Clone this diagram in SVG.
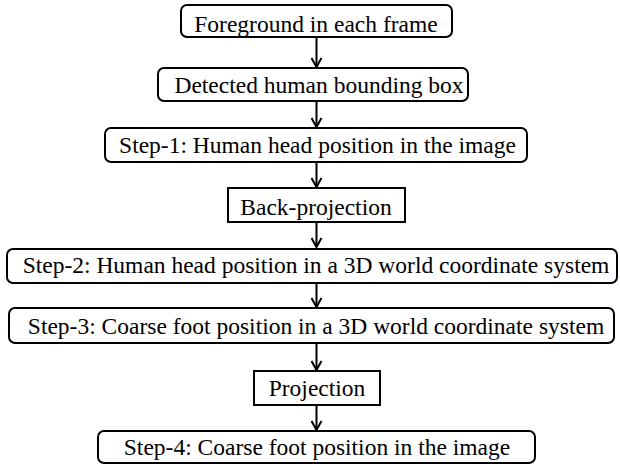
<svg xmlns="http://www.w3.org/2000/svg" width="620" height="464" viewBox="0 0 620 464">
<defs>
<style>
.box{fill:#fff;stroke:#000;stroke-width:2}
.c{stroke:#000;stroke-width:2;fill:none}
</style>
<marker id="ah" markerWidth="12" markerHeight="12" refX="10" refY="6" orient="auto" markerUnits="userSpaceOnUse">
<path d="M1,1 L10,6 L1,11" fill="none" stroke="#000" stroke-width="2"/>
</marker>
</defs>
<rect width="620" height="464" fill="#fff"/>
<g id="connectors">
<line class="c" x1="316.5" y1="38" x2="316.5" y2="67" marker-end="url(#ah)"/>
<line class="c" x1="316.5" y1="101" x2="316.5" y2="127" marker-end="url(#ah)"/>
<line class="c" x1="316.5" y1="162" x2="316.5" y2="187" marker-end="url(#ah)"/>
<line class="c" x1="316.5" y1="222" x2="316.5" y2="247" marker-end="url(#ah)"/>
<line class="c" x1="316.5" y1="283" x2="316.5" y2="307" marker-end="url(#ah)"/>
<line class="c" x1="316.5" y1="343" x2="316.5" y2="370" marker-end="url(#ah)"/>
<line class="c" x1="316.5" y1="405" x2="316.5" y2="430" marker-end="url(#ah)"/>
</g>
<g font-family="Liberation Serif" font-size="23.5" text-anchor="middle" fill="#000">
<g id="n1"><rect class="box" x="181" y="5" width="271" height="32" rx="6"/><text x="316" y="32">Foreground in each frame</text></g>
<g id="n2"><rect class="box" x="158" y="68" width="310" height="33" rx="6"/><text x="319" y="93">Detected human bounding box</text></g>
<g id="n3"><rect class="box" x="105" y="128" width="422" height="34" rx="6"/><text x="317.5" y="153">Step-1: Human head position in the image</text></g>
<g id="n4"><rect class="box" x="228" y="188" width="177" height="34"/><text x="316" y="215">Back-projection</text></g>
<g id="n5"><rect class="box" x="7" y="249" width="610" height="34" rx="6"/><text x="316" y="273">Step-2: Human head position in a 3D world coordinate system</text></g>
<g id="n6"><rect class="box" x="9" y="308" width="605" height="35" rx="6"/><text x="316" y="334">Step-3: Coarse foot position in a 3D world coordinate system</text></g>
<g id="n7"><rect class="box" x="254" y="371" width="126" height="34"/><text x="317" y="396">Projection</text></g>
<g id="n8"><rect class="box" x="98" y="431" width="437" height="32" rx="6"/><text x="317" y="455">Step-4: Coarse foot position in the image</text></g>
</g>
</svg>
